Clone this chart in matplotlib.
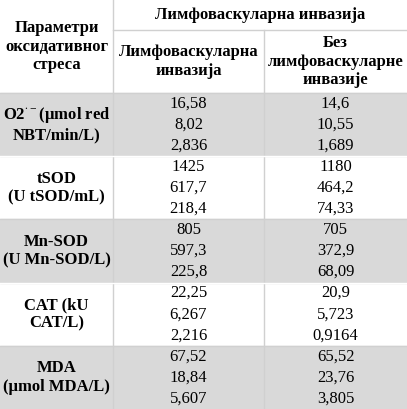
import matplotlib.pyplot as plt
from matplotlib.patches import Rectangle

plt.rcParams['font.family'] = ['Liberation Serif', 'DejaVu Serif']
plt.rcParams['mathtext.fontset'] = 'custom'
plt.rcParams['mathtext.rm'] = 'Liberation Serif'

header_top = "Лимфоваскуларна инвазија"
header_left = "Параметри\nоксидативног\nстреса"
col_labels = ["Лимфоваскуларна\nинвазија", "Без\nлимфоваскуларне\nинвазије"]
params = ["O2$^{\\bullet-}$(μmol red\nNBT/min/L)", "tSOD\n(U tSOD/mL)", "Mn-SOD\n(U Mn-SOD/L)",
          "CAT (kU\nCAT/L)", "MDA\n(μmol MDA/L)"]
with_lvi = [["16,58", "8,02", "2,836"], ["1425", "617,7", "218,4"], ["805", "597,3", "225,8"],
            ["22,25", "6,267", "2,216"], ["67,52", "18,84", "5,607"]]
without_lvi = [["14,6", "10,55", "1,689"], ["1180", "464,2", "74,33"], ["705", "372,9", "68,09"],
               ["20,9", "5,723", "0,9164"], ["65,52", "23,76", "3,805"]]

W, H = 407, 409
cols = [0, 113, 264, 407]
y_head2 = 30
y_body = 93
gh = (H - y_body) / len(params)
fs = 12

fig = plt.figure(figsize=(W / 100, H / 100), dpi=100)
ax = fig.add_axes([0, 0, 1, 1])
ax.set_xlim(0, W)
ax.set_ylim(H, 0)
ax.axis('off')
line = '#d0d0d0'

# header
ax.text((cols[0] + cols[1]) / 2, y_body / 2, header_left, ha='center', va='center',
        fontsize=fs, fontweight='bold', linespacing=1.2)
ax.text((cols[1] + cols[3]) / 2, y_head2 / 2, header_top, ha='center', va='center',
        fontsize=fs, fontweight='bold')
for i, lab in enumerate(col_labels):
    ax.text((cols[i + 1] + cols[i + 2]) / 2, (y_head2 + y_body) / 2, lab, ha='center', va='center',
            fontsize=fs, fontweight='bold', linespacing=1.2)
ax.plot([cols[1], cols[3]], [y_head2, y_head2], color=line, lw=1)
ax.plot([cols[1], cols[1]], [0, H], color=line, lw=1)
ax.plot([cols[2], cols[2]], [y_head2, H], color=line, lw=1)

for g, p in enumerate(params):
    y0 = y_body + g * gh
    if g % 2 == 0:
        ax.add_patch(Rectangle((0, y0), W, gh, color='#d9d9d9', zorder=0))
    ax.plot([0, W], [y0, y0], color='white' if g % 2 else line, lw=1)
    ax.text((cols[0] + cols[1]) / 2, y0 + gh / 2, p, ha='center', va='center',
            fontsize=fs, fontweight='bold', linespacing=1.2)
    for k in range(3):
        yy = y0 + gh * (k + 0.5) / 3
        ax.text((cols[1] + cols[2]) / 2, yy, with_lvi[g][k], ha='center', va='center', fontsize=fs)
        ax.text((cols[2] + cols[3]) / 2, yy, without_lvi[g][k], ha='center', va='center', fontsize=fs)

fig.savefig('out.png', dpi=100)
